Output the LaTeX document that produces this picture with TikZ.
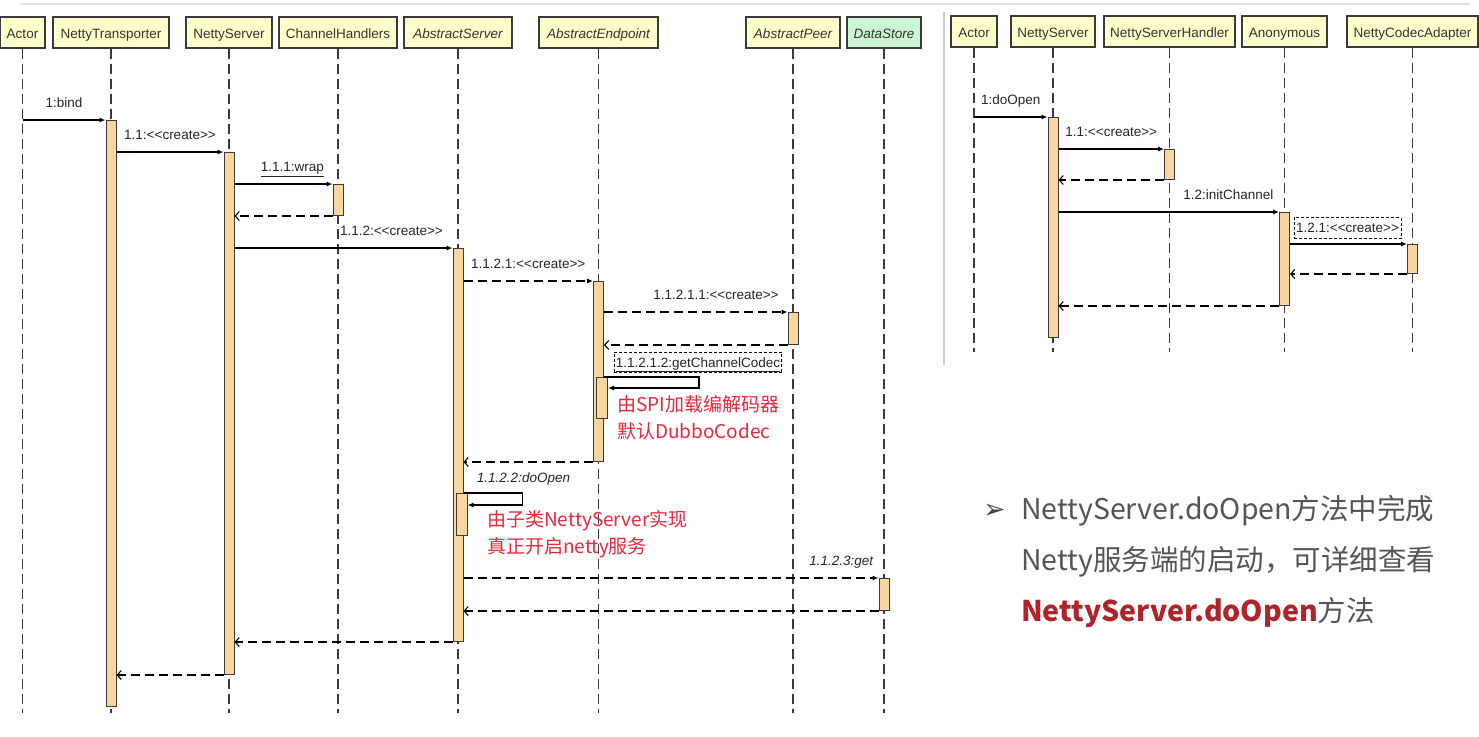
\documentclass[tikz,border=0pt]{standalone}
\usepackage{fontspec}
\newfontfamily\umlfont{Liberation Sans}
\newfontfamily\cjkfont{Noto Sans CJK SC}
\newfontfamily\symfont{DejaVu Sans}
\usepackage{tikz}
\usetikzlibrary{arrows.meta,positioning,calc}
\definecolor{headfill}{HTML}{FFFFCC}
\definecolor{storefill}{HTML}{CCF5D5}
\definecolor{barfill}{HTML}{FAD59E}
\definecolor{edgegray}{HTML}{3A3A3A}
\definecolor{notered}{HTML}{E8283C}
\definecolor{textgray}{HTML}{555555}
\definecolor{boldred}{HTML}{B0232A}
\definecolor{panelgray}{HTML}{E3E3E3}

\tikzset{
  head/.style={draw=edgegray, fill=headfill, line width=1.2pt, minimum height=31pt, inner sep=0pt, text height=11pt, text depth=0pt, text=black!80, font=\umlfont\fontsize{13.5}{16}\selectfont},
  abstr/.style={head, font=\umlfont\itshape\fontsize{13.5}{16}\selectfont},
  life/.style={edgegray, line width=1.1pt, dash pattern=on 10pt off 5pt},
  actbar/.style={draw=edgegray, fill=barfill, line width=1pt, minimum width=10pt, inner sep=0pt, anchor=north},
  call/.style={line width=1.1pt, -{Latex[length=6pt,width=5pt]}},
  dcall/.style={call, dash pattern=on 9pt off 5pt},
  ret/.style={line width=1.1pt, dash pattern=on 9pt off 5pt, -{Straight Barb[length=4pt,width=9pt]}},
  msg/.style={font=\umlfont\fontsize{13.5}{16}\selectfont, inner sep=0pt, text height=9.5pt, text depth=0pt, text=black!85},
  msgit/.style={msg, font=\umlfont\itshape\fontsize{13.5}{16}\selectfont},
  msgbox/.style={msg, draw, densely dashed, line width=0.6pt, inner xsep=2pt, inner ysep=6pt},
  note/.style={font=\cjkfont\fontsize{19}{27}\selectfont, text=notered, align=left, anchor=west, inner sep=0pt}
}

\begin{document}
\begin{tikzpicture}[x=1pt, y=-1pt]
  \fill[white] (0,0) rectangle (1479,736);
  \useasboundingbox (0,0) rectangle (1479,736);
  \draw[panelgray, line width=2pt] (20,4) -- (1470,4);
  \draw[panelgray!80!gray, line width=1.5pt] (944,12) -- (944,365);

  % left diagram: lifelines
  \node[head, minimum width=45pt] (lact) at (22.5,32.5) {Actor};
  \node[head, minimum width=116pt] (lnt) at (111,32.5) {NettyTransporter};
  \node[head, minimum width=86pt] (lns) at (229,32.5) {NettyServer};
  \node[head, minimum width=118pt] (lch) at (338,32.5) {ChannelHandlers};
  \node[abstr, minimum width=108pt] (las) at (458,32.5) {AbstractServer};
  \node[abstr, minimum width=119pt] (lae) at (598.5,32.5) {AbstractEndpoint};
  \node[abstr, minimum width=94pt] (lap) at (793,32.5) {AbstractPeer};
  \node[abstr, minimum width=74pt, fill=storefill] (lds) at (884,32.5) {DataStore};
  \coordinate (lbot) at (0,713);
  \foreach \n in {lact,lnt,lns,lch,las,lae,lap,lds}
    \draw[life] (\n.south) -- (\n.south |- lbot);

  % left diagram: activations
  \node[actbar, minimum height=586pt] (ntbar) at (lnt.south |- 0,120) {};
  \node[actbar, minimum height=522pt] (nsbar) at (lns.south |- 0,152) {};
  \node[actbar, minimum height=31pt] (chbar) at (lch.south |- 0,184) {};
  \node[actbar, minimum height=393pt] (asbar) at (las.south |- 0,248) {};
  \node[actbar, minimum height=42pt, minimum width=11pt] (asself) at ([xshift=3.5pt]asbar.north |- 0,493) {};
  \node[actbar, minimum height=180pt] (aebar) at (lae.south |- 0,281) {};
  \node[actbar, minimum height=41pt, minimum width=11pt] (aeself) at ([xshift=3.5pt]aebar.north |- 0,377) {};
  \node[actbar, minimum height=32pt] (apbar) at (lap.south |- 0,312) {};
  \node[actbar, minimum height=32pt] (dsbar) at (lds.south |- 0,578) {};

  % left diagram: messages
  \draw[call] (lact.south |- ntbar.north) -- node[msg, above=11.5pt] (mbind) {1:bind} (ntbar.north west);
  \draw[call] (ntbar.east |- nsbar.north) -- node[msg, above=11.5pt] (m11) {1.1:<<create>>} (nsbar.north west);
  \draw[call] (nsbar.east |- chbar.north) -- node[msg, above=11.5pt, pos=.59] (m111) {\underline{1.1.1:wrap}} (chbar.north west);
  \draw[ret] (chbar.south west) -- (nsbar.east |- chbar.south);
  \draw[call] (nsbar.east |- asbar.north) -- node[msg, above=11.5pt, pos=.72] (m112) {1.1.2:<<create>>} (asbar.north west);
  \draw[dcall] (asbar.east |- aebar.north) -- node[msg, above=11.5pt] (m1121) {1.1.2.1:<<create>>} (aebar.north west);
  \draw[dcall] (aebar.east |- apbar.north) -- node[msg, above=11.5pt, pos=.61] (m11211) {1.1.2.1.1:<<create>>} (apbar.north west);
  \draw[ret] (apbar.south west) -- (aebar.east |- apbar.south);
  \node[msgbox, double, double distance=1.2pt] (m11212) at (698,362.5) {\underline{1.1.2.1.2:getChannelCodec}};
  \draw[call] (aebar.east |- aeself.north) -- ++(95,0) |- ([yshift=-11pt]aeself.north east);
  \node[note] (nspi) at (617,418) {由SPI加载编解码器\\默认DubboCodec};
  \draw[ret] (aebar.south west) -- (asbar.east |- aebar.south);
  \node[msgit] (m1122) at (523.5,478) {1.1.2.2:doOpen};
  \draw[call] (asbar.east |- asself.north) -- ++(59,0) |- ([yshift=-12pt]asself.north east);
  \node[note] (nimpl) at (487,534) {由子类NettyServer实现\\真正开启netty服务};
  \draw[dcall] (asbar.east |- dsbar.north) -- node[msgit, above=11.5pt, pos=.91] (m1123) {1.1.2.3:get} (dsbar.north west);
  \draw[ret] (dsbar.south west) -- (asbar.east |- dsbar.south);
  \draw[ret] (asbar.south west) -- (nsbar.east |- asbar.south);
  \draw[ret] (nsbar.south west) -- (ntbar.east |- nsbar.south);

  % right diagram
  \node[head, minimum width=46pt] (ract) at (974,31.5) {Actor};
  \node[head, minimum width=84pt] (rns) at (1053,31.5) {NettyServer};
  \node[head, minimum width=131pt] (rnsh) at (1169.5,31.5) {NettyServerHandler};
  \node[head, minimum width=85pt] (ranon) at (1284.5,31.5) {Anonymous};
  \node[head, minimum width=131pt] (rnca) at (1412.5,31.5) {NettyCodecAdapter};
  \coordinate (rbot) at (0,352);
  \foreach \n in {ract,rns,rnsh,ranon,rnca}
    \draw[life] (\n.south) -- (\n.south |- rbot);

  \node[actbar, minimum height=220pt] (rnsbar) at (rns.south |- 0,117) {};
  \node[actbar, minimum height=30pt] (rnshbar) at (rnsh.south |- 0,149) {};
  \node[actbar, minimum height=93pt] (ranonbar) at (ranon.south |- 0,212) {};
  \node[actbar, minimum height=29pt] (rncabar) at (rnca.south |- 0,244) {};

  \draw[call] (ract.south |- rnsbar.north) -- node[msg, above=11.5pt] (rm1) {1:doOpen} (rnsbar.north west);
  \draw[call] (rnsbar.east |- rnshbar.north) -- node[msg, above=11.5pt] (rm11) {1.1:<<create>>} (rnshbar.north west);
  \draw[ret] (rnshbar.south west) -- (rnsbar.east |- rnshbar.south);
  \draw[call] (rnsbar.east |- ranonbar.north) -- node[msg, above=11.5pt, pos=.77] (rm12) {1.2:initChannel} (ranonbar.north west);
  \node[msgbox] (rm121) at (1347.5,228) {1.2.1:<<create>>};
  \draw[call, line width=1.8pt] (ranonbar.east |- rncabar.north) -- (rncabar.north west);
  \draw[ret] (rncabar.south west) -- (ranonbar.east |- rncabar.south);
  \draw[ret] (ranonbar.south west) -- (rnsbar.east |- ranonbar.south);

  % summary text
  \node[anchor=west, inner sep=0pt, text=textgray!80!black, font=\symfont\fontsize{27}{30}\selectfont] (bullet) at (983,511) {➢};
  \node[anchor=west, align=left, inner sep=0pt, text=textgray, font=\cjkfont\fontsize{28.5}{51}\selectfont] (summary) at (1021,562)
    {NettyServer.doOpen方法中完成\\Netty服务端的启动，可详细查看\\{\color{boldred}\bfseries NettyServer.doOpen}方法};
\end{tikzpicture}
\end{document}
